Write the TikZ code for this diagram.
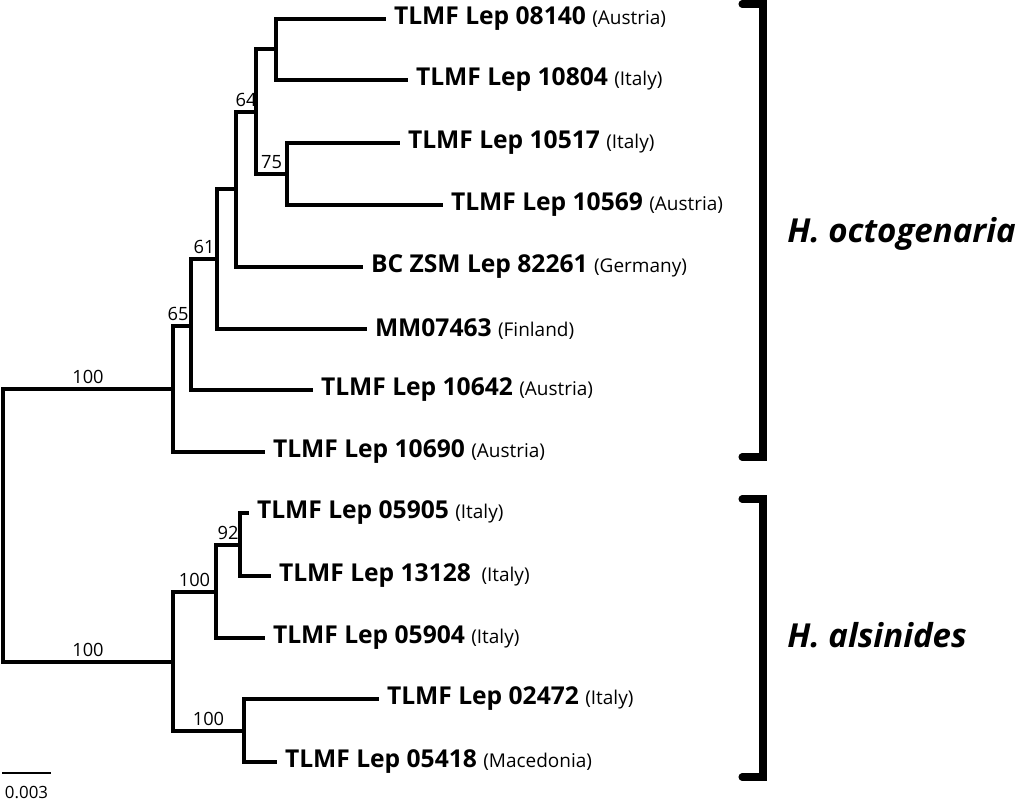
\documentclass[tikz,border=0pt]{standalone}
\usepackage{fontspec}
\setmainfont{Open Sans}
\usetikzlibrary{positioning}
\definecolor{cink}{HTML}{000000}
\newcommand\ctry[1]{{\fontsize{13.5}{15}\selectfont\mdseries(#1)}}
\tikzset{
  every picture/.style={x=0.025cm, y=-0.025cm},
  branch/.style={draw=cink, line width=2.5pt},
  leaf/.style={anchor=west, inner xsep=5.5pt, inner ysep=0pt, font=\fontsize{17.5}{20}\selectfont\bfseries},
  boot/.style={pos=0.75, above, inner sep=2.5pt, font=\fontsize{13}{15}\selectfont},
  species/.style={anchor=base west, inner sep=0pt, font=\fontsize{23.5}{28}\selectfont\bfseries\itshape},
  bracket/.style={draw=cink, line width=5pt, line cap=round},
  scalebar/.style={draw=cink, line width=1.4pt},
}
\begin{document}
\begin{tikzpicture}
  \useasboundingbox (0,0) rectangle (1024,801);
  % internal nodes
  \coordinate (root) at (3,525);
  \coordinate (nA) at (173,389);
  \coordinate (nB) at (191,326);
  \coordinate (nC) at (217,259);
  \coordinate (nD) at (236,189);
  \coordinate (nE) at (256,112);
  \coordinate (nF) at (276,49);
  \coordinate (nG) at (287,174);
  \coordinate (nH) at (173,662);
  \coordinate (nI) at (216,592);
  \coordinate (nJ) at (240,545);
  \coordinate (nK) at (244,731);
  % leaves
  \foreach \n/\x/\y/\t/\c in {
    l08140/386/19/TLMF Lep 08140/Austria,
    l10804/408/80/TLMF Lep 10804/Italy,
    l10517/400/143/TLMF Lep 10517/Italy,
    l10569/443/205/TLMF Lep 10569/Austria,
    l82261/363/267/BC ZSM Lep 82261/Germany,
    l07463/367/329/MM07463/Finland,
    l10642/313/390/TLMF Lep 10642/Austria,
    l10690/265/452/TLMF Lep 10690/Austria,
    l05905/249/513/TLMF Lep 05905/Italy,
    l13128/271/576/TLMF Lep 13128\hspace{3pt}/Italy,
    l05904/265/638/TLMF Lep 05904/Italy,
    l02472/379/699/TLMF Lep 02472/Italy,
    l05418/277/762/TLMF Lep 05418/Macedonia} {
    \node[leaf] (\n) at (\x,\y) {\t\ \ctry{\c}};
  }
  % branches
  \draw[branch] (root) |- node[boot] {100} (nA);
  \draw[branch] (root) |- node[boot] {100} (nH);
  \draw[branch] (nA) |- node[boot, xshift=-0.1cm] {65} (nB);
  \draw[branch] (nB) |- node[boot] {61} (nC);
  \draw[branch] (nC) |- (nD);
  \draw[branch] (nD) |- node[boot] {64} (nE);
  \draw[branch] (nE) |- (nF);
  \draw[branch] (nE) |- node[boot] {75} (nG);
  \draw[branch] (nH) |- node[boot] {100} (nI);
  \draw[branch] (nI) |- node[boot] {92} (nJ);
  \draw[branch] (nH) |- node[boot] {100} (nK);
  \foreach \p/\l in {nF/l08140, nF/l10804, nG/l10517, nG/l10569, nD/l82261,
    nC/l07463, nB/l10642, nA/l10690, nJ/l05905, nJ/l13128, nI/l05904,
    nK/l02472, nK/l05418}
    \draw[branch] (\p) |- (\l.west);
  % clades
  \draw[bracket] (742,4) -- (763,4) -- (763,457) -- (742,457);
  \draw[bracket] (742,499) -- (763,499) -- (763,777) -- (742,777);
  \node[species] (octo) at (787,242) {H. octogenaria};
  \node[species] (alsi) at (787,647) {H. alsinides};
  % scale
  \coordinate (sbL) at (2,773);
  \coordinate (sbR) at (51,773);
  \draw[scalebar] (sbL) -- node[midway, below=8.5pt, inner sep=0pt, font=\fontsize{12}{14}\selectfont] (sblab) {0.003} (sbR);
\end{tikzpicture}
\end{document}
